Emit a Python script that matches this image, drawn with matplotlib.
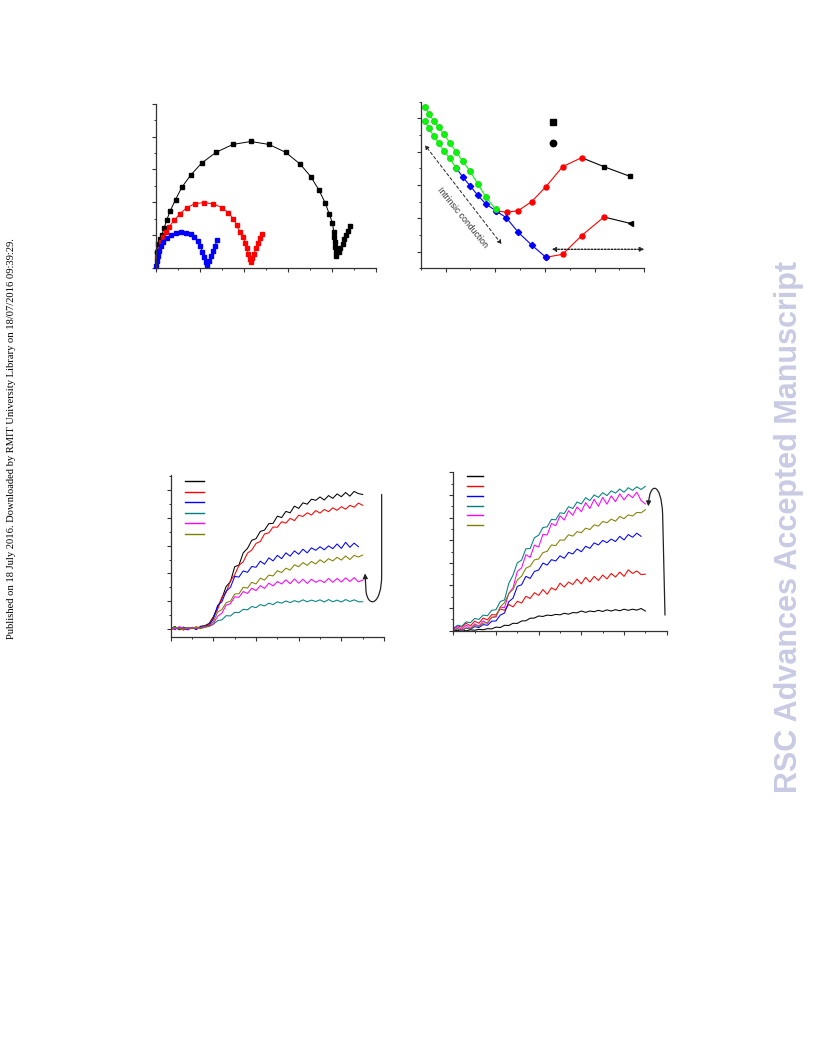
import numpy as np
import matplotlib
matplotlib.use("Agg")
import matplotlib.pyplot as plt
from matplotlib.path import Path
from matplotlib.patches import FancyArrowPatch
from matplotlib.lines import Line2D
from matplotlib.ticker import MultipleLocator

# ---------------- Panel (a): Nyquist plots ----------------
a_black_x = [0.02, 0.06, 0.10, 0.14, 0.19, 0.25, 0.33, 0.45, 0.59, 0.79, 1.04, 1.37, 1.75, 2.16,
             2.57, 2.95, 3.28, 3.52, 3.71, 3.85, 3.94, 4.01, 4.04, 4.05, 4.07, 4.08, 4.09, 4.10,
             4.15, 4.19, 4.24, 4.28, 4.33, 4.37, 4.40]
a_black_y = [0.48, 0.73, 0.89, 1.01, 1.21, 1.46, 1.74, 2.08, 2.45, 2.82, 3.19, 3.52, 3.76, 3.85,
             3.76, 3.52, 3.16, 2.78, 2.36, 1.97, 1.64, 1.38, 1.11, 0.94, 0.79, 0.63, 0.48, 0.35,
             0.48, 0.60, 0.73, 0.87, 0.99, 1.14, 1.27]
a_red_x = [0.02, 0.06, 0.11, 0.17, 0.23, 0.31, 0.42, 0.55, 0.70, 0.89, 1.10, 1.31, 1.50, 1.65,
           1.76, 1.84, 1.91, 1.99, 2.03, 2.07, 2.10, 2.13, 2.16,
           2.19, 2.23, 2.28, 2.32, 2.37, 2.41]
a_red_y = [0.33, 0.56, 0.79, 0.94, 1.09, 1.26, 1.45, 1.65, 1.83, 1.96, 1.99, 1.95, 1.84, 1.68,
           1.50, 1.30, 1.09, 0.94, 0.77, 0.60, 0.44, 0.28, 0.17,
           0.30, 0.44, 0.60, 0.76, 0.91, 1.03]
a_blue_x = [0.01, 0.02, 0.05, 0.08, 0.11, 0.17, 0.25, 0.34, 0.45, 0.57, 0.69, 0.79, 0.88, 0.95,
            1.01, 1.06, 1.10, 1.14, 1.17, 1.21, 1.26, 1.30, 1.35, 1.39]
a_blue_y = [0.07, 0.22, 0.38, 0.53, 0.66, 0.79, 0.91, 0.99, 1.06, 1.09, 1.08, 1.03, 0.94, 0.82,
            0.66, 0.50, 0.33, 0.17, 0.09, 0.22, 0.38, 0.53, 0.68, 0.84]

# ---------------- Panel (b): conductivity ----------------
b_green1_x = [0.584, 0.671, 0.765, 0.859, 0.973, 1.087, 1.208, 1.342, 1.490, 1.644, 1.812, 2.007]
b_green1_y = [5.35, 5.12, 4.92, 4.73, 4.52, 4.26, 4.00, 3.72, 3.42, 3.04, 2.64, 2.27]
b_green2_x = [0.584, 0.664, 0.758, 0.859, 0.966, 1.087, 1.208]
b_green2_y = [4.93, 4.70, 4.48, 4.26, 4.03, 3.80, 3.52]
b_blue_x = [1.208, 1.342, 1.490, 1.644, 1.812, 2.007, 2.221, 2.463, 2.732, 3.020]
b_blue_y = [3.52, 3.25, 2.98, 2.70, 2.43, 2.23, 2.02, 1.58, 1.20, 0.83]
b_red1_x = [2.007, 2.228, 2.463, 2.732, 3.020, 3.356, 3.738]
b_red1_y = [2.23, 2.18, 2.23, 2.50, 2.95, 3.55, 3.82]
b_black1_x = [3.738, 4.188, 4.711]
b_black1_y = [3.82, 3.55, 3.26]
b_red2_x = [3.020, 3.356, 3.738, 4.188]
b_red2_y = [0.83, 0.92, 1.48, 2.04]
b_black2_x = [4.188, 4.711]
b_black2_y = [2.04, 1.85]

# ---------------- Panel (c): response transients ----------------
t_c = [0, 20, 40, 60, 80, 100, 120, 140, 160, 180, 200, 220, 240, 260, 280, 300, 320, 340,
       360, 380, 400, 420, 440, 460, 480, 500, 520, 540, 560, 580, 600, 620, 640, 660, 680,
       700, 720, 740, 760, 780, 800, 820, 840, 860, 880, 900]
c_black = [0.2, 0.9, -0.3, 0.7, 0.0, 0.6, -0.2, 1.0, 1.2, 2.0,
           4.4, 7.9, 11.0, 15.3, 17.0, 22.4, 23.0, 27.4, 29.0, 31.9, 32.5, 35.1, 35.6, 37.9,
           38.0, 40.6, 40.1, 42.3, 41.8, 44.2, 43.4, 45.4, 44.9, 46.7, 46.3, 47.5, 46.4, 48.0,
           47.0, 48.6, 47.6, 49.1, 47.8, 49.5, 48.7, 48.4]
c_red = [-0.3, 0.5, 0.2, -0.4, 0.6, 0.1, 0.8, 0.3, 1.0, 1.6,
         4.1, 7.0, 11.5, 13.2, 17.4, 19.5, 22.9, 24.2, 27.3, 28.4, 30.8, 31.5, 34.2, 34.6,
         36.7, 36.6, 38.6, 38.1, 39.8, 39.0, 40.9, 40.5, 41.8, 41.0, 42.6, 41.7, 43.0, 42.2,
         43.6, 42.7, 44.0, 43.1, 44.5, 43.8, 45.3, 44.5]
c_blue = [0.4, -0.2, 0.7, 0.1, -0.3, 0.5, 0.0, 0.6, 0.9, 1.3,
          3.6, 8.5, 9.8, 13.6, 15.0, 18.9, 18.7, 20.9, 20.4, 22.5, 22.2, 24.4, 23.3, 25.6,
          24.5, 26.5, 25.3, 27.4, 26.2, 28.1, 26.9, 28.7, 27.4, 29.2, 28.3, 29.6, 28.5, 29.9,
          28.9, 30.6, 29.0, 31.2, 29.4, 30.9, 29.6]
c_teal = [0.3, 0.7, 0.0, 0.5, 0.2, 0.6, 0.1, 0.5, 0.7, 0.9,
          1.7, 3.0, 3.3, 4.8, 4.7, 6.0, 5.9, 7.1, 6.9, 8.1, 7.7, 8.8, 8.3, 9.3, 8.8, 9.8,
          9.3, 10.1, 9.5, 10.2, 9.7, 10.5, 9.8, 10.4, 9.9, 10.5, 9.7, 10.6, 9.8, 10.4, 9.7,
          10.6, 9.9, 10.5, 9.8, 9.8]
c_magenta = [0.5, 0.0, 0.8, 0.3, -0.1, 0.6, 0.2, 0.4, 0.8, 1.0,
             1.9, 4.6, 5.7, 8.6, 9.1, 11.6, 11.4, 13.5, 12.8, 14.7, 13.8, 15.6, 14.6, 16.5,
             15.5, 17.1, 16.2, 17.7, 16.3, 18.0, 16.5, 17.9, 16.4, 17.9, 16.8, 17.6, 16.7, 18.2,
             16.8, 18.2, 16.9, 18.4, 17.1, 18.5, 17.0, 17.6]
c_olive = [0.0, 0.6, 0.3, -0.2, 0.5, 0.2, 0.7, 0.1, 0.6, 1.1,
           2.6, 6.1, 7.0, 9.5, 10.0, 12.6, 12.7, 15.0, 14.7, 16.8, 16.2, 18.3, 17.6, 19.4,
           19.1, 21.0, 20.3, 21.9, 21.2, 23.1, 22.4, 23.9, 22.9, 24.3, 23.4, 24.9, 23.9, 25.3,
           24.5, 25.8, 24.8, 26.3, 25.0, 26.5, 25.9, 26.6]

# ---------------- Panel (d): response transients ----------------
t_d = t_c
d_black = [0.3, 0.0, 0.5, -0.1, 0.4, 0.2, 0.6, 0.4, 0.9, 0.8,
           1.6, 1.4, 2.4, 2.3, 3.3, 3.2, 4.3, 4.4, 5.5, 5.6, 6.5, 6.3, 6.9, 6.7, 7.2, 7.0,
           7.7, 7.3, 8.0, 7.9, 8.7, 8.1, 8.7, 8.4, 9.0, 8.5, 9.2, 8.7, 9.3, 8.8, 9.5, 9.0,
           9.5, 9.1, 9.8, 8.7]
d_red = [0.7, 2.2, 1.5, 3.3, 2.1, 4.2, 3.3, 5.6, 4.8, 7.1,
         7.0, 9.6, 9.0, 11.6, 10.5, 13.0, 12.2, 15.2, 14.2, 16.8, 15.6, 18.2, 16.1, 19.0,
         17.9, 21.0, 19.3, 21.5, 20.4, 22.8, 20.7, 23.6, 21.5, 24.0, 22.2, 24.6, 22.9, 25.3,
         23.7, 25.9, 24.0, 26.9, 25.3, 26.4, 24.8, 25.0]
d_blue = [0.3, 0.9, 0.1, 1.2, 0.6, 1.8, 1.4, 2.7, 2.4, 4.2,
          4.3, 6.9, 7.8, 12.8, 14.4, 19.6, 20.3, 24.0, 23.1, 26.2, 26.8, 29.9, 29.0, 31.4,
          30.8, 33.1, 32.0, 34.6, 33.9, 36.1, 34.9, 37.3, 36.4, 38.8, 37.9, 39.9, 38.9, 40.5,
          39.4, 41.7, 40.1, 42.5, 41.3, 43.1, 41.7]
d_teal = [1.0, 2.4, 2.0, 3.9, 3.5, 5.4, 5.0, 6.9, 6.6, 9.0,
          9.3, 12.9, 13.6, 20.9, 24.6, 30.0, 31.2, 36.2, 36.3, 41.1, 42.2, 45.6, 45.9, 49.2,
          49.0, 52.1, 51.8, 54.8, 54.0, 56.9, 56.0, 58.8, 57.5, 60.0, 58.9, 61.0, 59.7, 61.8,
          60.8, 62.6, 61.2, 63.2, 62.0, 63.6, 62.4, 63.8]
d_magenta = [0.7, 1.8, 0.6, 2.4, 1.0, 3.0, 2.0, 4.3, 3.2, 6.0,
             6.0, 10.4, 10.2, 16.5, 19.0, 26.2, 27.8, 33.6, 32.4, 37.8, 37.0, 42.6, 42.3, 47.4,
             46.4, 50.8, 48.9, 53.0, 51.0, 54.7, 52.6, 56.6, 54.0, 58.1, 55.0, 58.9, 55.9, 59.6,
             57.0, 60.5, 57.8, 60.3, 58.8, 61.2, 57.5, 56.0]
d_olive = [0.3, 0.9, 0.2, 1.2, 0.9, 2.3, 1.8, 3.3, 3.6, 5.7,
           6.5, 10.5, 12.4, 16.4, 18.2, 22.4, 24.1, 27.6, 28.5, 31.3, 31.7, 34.5, 35.1, 37.9,
           37.6, 40.1, 40.0, 42.4, 41.8, 43.8, 43.3, 45.3, 44.7, 46.8, 46.2, 48.3, 47.7, 49.3,
           48.4, 50.5, 49.5, 51.2, 50.7, 52.3, 52.1, 53.5]

BLACK, RED, BLUE = "#000000", "#ff0000", "#0000ff"
TEAL, MAGENTA, OLIVE, GREEN = "#008080", "#ff00ff", "#808000", "#00ff00"

W, H = 816, 1056
fig = plt.figure(figsize=(W / 100, H / 100), dpi=100)
fig.patch.set_facecolor("white")


def px_axes(l, t, r, b):
    return fig.add_axes([l / W, 1 - b / H, (r - l) / W, (b - t) / H])


def style(ax, xmaj, ymaj):
    for s in ["top", "right"]:
        ax.spines[s].set_visible(False)
    for s in ["left", "bottom"]:
        ax.spines[s].set_linewidth(0.9)
        ax.spines[s].set_color("#333333")
    ax.xaxis.set_major_locator(MultipleLocator(xmaj))
    ax.xaxis.set_minor_locator(MultipleLocator(xmaj / 2))
    ax.yaxis.set_major_locator(MultipleLocator(ymaj))
    ax.yaxis.set_minor_locator(MultipleLocator(ymaj / 2))
    ax.tick_params(which="major", direction="out", length=2.6, width=0.8, color="#333333",
                   labelbottom=False, labelleft=False)
    ax.tick_params(which="minor", direction="out", length=1.4, width=0.7, color="#333333")
    ax.set_facecolor("none")


# ---- (a)
ax_a = px_axes(155.7, 103.7, 376, 268)
style(ax_a, 1, 1)
ax_a.set_xlim(0, 5)
ax_a.set_ylim(0, 5)
ax_a.plot(a_black_x, a_black_y, "-s", color=BLACK, lw=0.7, ms=3.2, clip_on=False)
ax_a.plot(a_red_x, a_red_y, "-s", color=RED, lw=0.7, ms=3.2, clip_on=False)
ax_a.plot(a_blue_x, a_blue_y, "-s", color=BLUE, lw=0.7, ms=3.2, clip_on=False)

# ---- (b)
ax_b = px_axes(420.7, 101.7, 644.3, 268.3)
style(ax_b, 1, 1)
ax_b.set_xlim(0.5, 5.0)
ax_b.set_ylim(0.5, 5.5)
ax_b.plot(b_black1_x, b_black1_y, "-s", color=BLACK, lw=0.8, ms=3.2, markevery=[1, 2])
ax_b.plot(b_black2_x, b_black2_y, "-<", color=BLACK, lw=0.8, ms=3.6, markevery=[1])
ax_b.plot(b_red1_x, b_red1_y, "-o", color=RED, lw=0.8, ms=3.6)
ax_b.plot(b_red2_x, b_red2_y, "-o", color=RED, lw=0.8, ms=3.6)
ax_b.plot(b_blue_x, b_blue_y, "-D", color=BLUE, lw=0.8, ms=3.2)
ax_b.plot(b_green1_x, b_green1_y, "-o", color=GREEN, mec="#22dd22", lw=0.8, ms=4.0, clip_on=False)
ax_b.plot(b_green2_x, b_green2_y, "-o", color=GREEN, mec="#22dd22", lw=0.8, ms=4.0, clip_on=False)
ax_b.annotate("", xy=(0.584, 4.20), xytext=(2.128, 1.22),
              arrowprops=dict(arrowstyle="<|-|>", linestyle=(0, (3, 2.5)), lw=0.7,
                              color="#222222", mutation_scale=6, shrinkA=0, shrinkB=0))
ax_b.annotate("", xy=(3.134, 1.07), xytext=(5.0, 1.07),
              arrowprops=dict(arrowstyle="<|-|>", linestyle=(0, (1.2, 1.2)), lw=1.0,
                              color="#222222", mutation_scale=6, shrinkA=0, shrinkB=0),
              annotation_clip=False)
ax_b.text(1.339, 2.025, "Intrinsic conduction", rotation=-51, ha="center", va="center",
          fontsize=6.3, family="Liberation Sans", color="#333333", rotation_mode="anchor")
hb = [Line2D([], [], ls="none", marker="s", color=BLACK, ms=4.0),
      Line2D([], [], ls="none", marker="o", color=BLACK, ms=4.6)]
ax_b.legend(hb, [" ", " "], loc="upper left", bbox_to_anchor=(0.565, 0.905), frameon=False,
            fontsize=8, handlelength=1.0, labelspacing=1.02, borderpad=0, borderaxespad=0,
            handletextpad=0.2, numpoints=1)

# ---- (c)
ax_c = px_axes(170.7, 475, 384, 636.7)
style(ax_c, 200, 10)
ax_c.set_xlim(0, 1000)
ax_c.set_ylim(-2.76, 55.4)
series_c = [(c_black, BLACK), (c_red, RED), (c_blue, BLUE), (c_teal, TEAL),
            (c_magenta, MAGENTA), (c_olive, OLIVE)]
for vals, col in series_c:
    ax_c.plot(t_c[:len(vals)], vals, color=col, lw=0.75)
hc = [Line2D([], [], color=col, lw=1.0) for _, col in series_c]
ax_c.legend(hc, [" "] * 6, loc="upper left", bbox_to_anchor=(0.067, 0.978), frameon=False,
            fontsize=5, handlelength=2.8, labelspacing=0.65, borderpad=0, borderaxespad=0,
            handletextpad=0.2)
path_c = Path([(989, 48.4), (989, 19.4), (989, 8.6), (927, 7.4), (916, 13.4), (911, 20.0)],
              [Path.MOVETO, Path.LINETO, Path.CURVE4, Path.CURVE4, Path.CURVE4, Path.LINETO])
ax_c.add_patch(FancyArrowPatch(path=path_c, arrowstyle="-|>", mutation_scale=7, lw=0.9,
                               color="#222222", transform=ax_c.transData, clip_on=False))

# ---- (d)
ax_d = px_axes(453.3, 472.3, 666.7, 630.7)
style(ax_d, 200, 10)
ax_d.set_xlim(0, 1000)
ax_d.set_ylim(0, 70)
series_d = [(d_black, BLACK), (d_red, RED), (d_blue, BLUE), (d_teal, TEAL),
            (d_magenta, MAGENTA), (d_olive, OLIVE)]
for vals, col in series_d:
    ax_d.plot(t_d[:len(vals)], vals, color=col, lw=0.75)
hd = [Line2D([], [], color=col, lw=1.0) for _, col in series_d]
ax_d.legend(hd, [" "] * 6, loc="upper left", bbox_to_anchor=(0.063, 0.995), frameon=False,
            fontsize=5, handlelength=2.4, labelspacing=0.57, borderpad=0, borderaxespad=0,
            handletextpad=0.2)
path_d = Path([(992, 6.9), (981, 51.3), (975, 66.0), (919, 66.0), (914, 55.0)],
              [Path.MOVETO, Path.LINETO, Path.CURVE4, Path.CURVE4, Path.CURVE4])
ax_d.add_patch(FancyArrowPatch(path=path_d, arrowstyle="-|>", mutation_scale=7, lw=0.9,
                               color="#222222", transform=ax_d.transData, clip_on=False))

# ---- page annotations
fig.text(12 / W, 1 - 439 / H,
         "Published on 18 July 2016. Downloaded by RMIT University Library on 18/07/2016 09:39:29.",
         rotation=90, ha="center", va="center", fontsize=7.6, family="Liberation Serif")
fig.text(789 / W, 1 - 527 / H, "RSC Advances Accepted Manuscript", rotation=90,
         ha="center", va="center", fontsize=22, weight="bold", family="Liberation Sans",
         color="#c9cae3")

fig.savefig("out.png", dpi=100, facecolor="white")
